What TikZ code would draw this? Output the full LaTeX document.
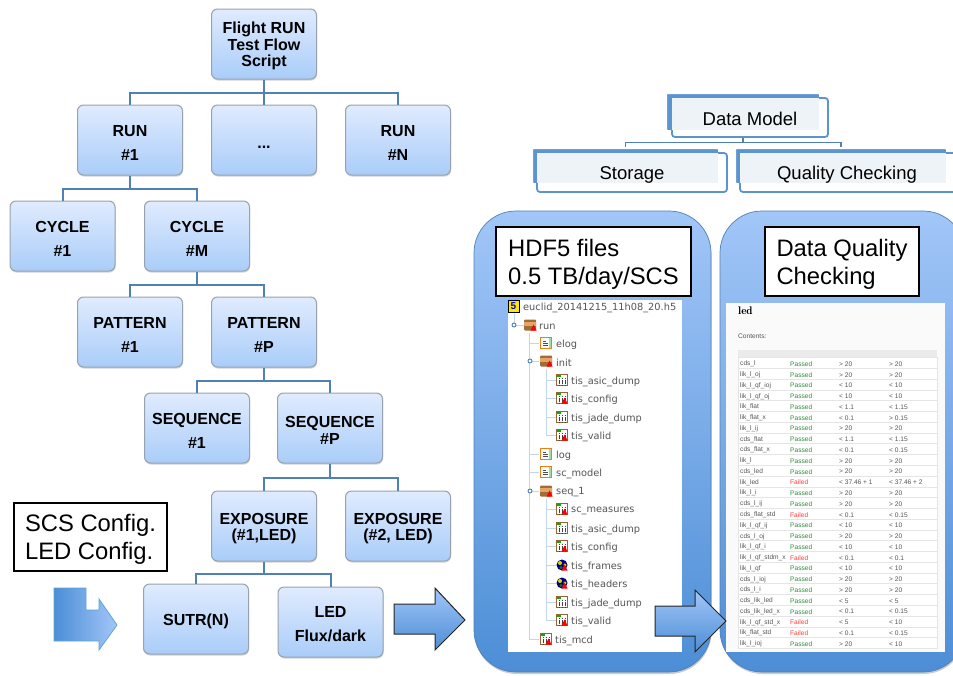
\documentclass[tikz,border=0pt]{standalone}
\usepackage{fontspec}
\setmainfont{Liberation Sans}
\newfontfamily\treefont{DejaVu Sans}
\usetikzlibrary{shadows}
\definecolor{linkblue}{HTML}{4F81B5}
\definecolor{barblue}{HTML}{5B94CF}
\definecolor{barpale}{HTML}{EEF3F8}
\definecolor{panelhi}{HTML}{A2C6F8}
\definecolor{panello}{HTML}{4C8ED6}
\definecolor{boxhi}{HTML}{E0EBFE}
\definecolor{boxlo}{HTML}{A9CDF9}
\definecolor{boxedge}{HTML}{98A2AE}
\definecolor{Passed}{HTML}{2E8B3A}
\definecolor{Failed}{HTML}{FF3B3B}
\definecolor{treegray}{HTML}{555555}
\definecolor{treeline}{HTML}{C4D6EA}
\newcommand{\flowgap}{\rule{0pt}{16pt}}
\newcommand{\labelgap}{\rule{0pt}{22.5pt}}
\tikzset{
	flowbox/.style={draw=boxedge, line width=1pt, rounded corners=6pt, top color=boxhi, bottom color=boxlo, minimum width=105pt, minimum height=70pt, inner sep=0pt, align=center, font=\fontsize{16}{16.5}\selectfont\bfseries, drop shadow={shadow xshift=0.5pt, shadow yshift=-1.5pt, opacity=0.35}},
	link/.style={draw=linkblue, line width=2pt},
	labelbox/.style={draw=black, line width=2pt, fill=white, align=left, inner sep=0pt, font=\fontsize{23.8}{28.4}\selectfont},
	panel/.style={draw=linkblue, line width=0.7pt, rounded corners=42pt, top color=panelhi, bottom color=panello, drop shadow={shadow xshift=0.5pt, shadow yshift=-2pt, opacity=0.4}},
	barback/.style={draw=white, line width=2.5pt, fill=barblue, rounded corners=2pt, inner sep=0pt},
	barfront/.style={draw=barblue, line width=1.8pt, fill=white, rounded corners=3pt, inner sep=0pt},
	barfill/.style={fill=barpale, inner sep=0pt},
	bartext/.style={inner sep=0pt, anchor=base, font=\fontsize{18.5}{20}\selectfont},
	treetext/.style={anchor=west, inner sep=0pt, yshift=-1.5pt, text=treegray, font=\treefont\fontsize{9.8}{10}\selectfont},
	cell/.style={anchor=west, inner sep=0pt, yshift=-1pt, text=treegray, font=\fontsize{6.6}{7}\selectfont},
}
% small icons of the file browser
\newcommand{\icondoc}[2]{\begin{scope}[shift={(#1,#2)}]
	\draw[orange!70!brown, fill=white, line width=0.7pt] (-5.5,-5.5) rectangle (5.5,5.5);
	\fill[green!50!gray!50] (2.5,-5) rectangle (5,5);
	\draw[black!70, line width=0.9pt] (-3,-2) -- (0,-2) (-3,0) -- (2,0) (-3,2) -- (2,2);
\end{scope}}
\newcommand{\iconredA}[2]{\fill[red] (#1,#2-3) -- (#1+3,#2+3) -- (#1-3,#2+3) -- cycle;}
\newcommand{\icontab}[2]{\begin{scope}[shift={(#1,#2)}]
	\draw[brown!80!black, fill=white, line width=0.8pt] (-5.5,-5.5) rectangle (5.5,5.5);
	\fill[green!70!black] (-5,-5) rectangle (-1,-3);
	\foreach \tabx in {-2.5,0.5,3.5}
		\draw[black!75, line width=1pt, dash pattern=on 1.4pt off 0.8pt] (\tabx,-2) -- (\tabx,5);
\end{scope}}
\newcommand{\icontabA}[2]{\icontab{#1}{#2}\iconredA{#1+2.5}{#2+2.5}}
\newcommand{\iconglobe}[2]{\fill[blue!50!black] (#1,#2) circle (5.5pt);
	\fill[yellow!70!olive] (#1-2,#2-2) circle (2pt) (#1+3,#2) circle (1.6pt);
	\fill[green!50!black] (#1-1,#2+2.5) circle (1.7pt);
	\iconredA{#1+2.5}{#2+2.5}}
\newcommand{\iconfolder}[2]{\fill[brown!85!black, rounded corners=1pt] (#1-6,#2-5.5) rectangle (#1+6,#2+5.5);
	\fill[brown!60!orange!70] (#1-6,#2-3) rectangle (#1+6,#2+1);
	\iconredA{#1+3.5}{#2+2.5}}
\begin{document}
\begin{tikzpicture}[x=1pt, y=-1pt]
	\useasboundingbox (0,0) rectangle (953,675);
	\clip (0,0) rectangle (953,675);

	% test flow tree
	\node[flowbox] (script) at (264,44) {\flowgap Flight RUN\\Test Flow\\Script};
	\node[flowbox] (run1) at (130,140) {\flowgap RUN\\[7.5pt]\#1};
	\node[flowbox] (rundots) at (264,140) {\flowgap ...};
	\node[flowbox] (runN) at (398,140) {\flowgap RUN\\[7.5pt]\#N};
	\node[flowbox] (cycle1) at (62.5,236) {\flowgap CYCLE\\[7.5pt]\#1};
	\node[flowbox] (cycleM) at (197,236) {\flowgap CYCLE\\[7.5pt]\#M};
	\node[flowbox] (pattern1) at (130,332) {\flowgap PATTERN\\[7.5pt]\#1};
	\node[flowbox] (patternP) at (264,332) {\flowgap PATTERN\\[7.5pt]\#P};
	\node[flowbox] (seq1) at (197,428) {\flowgap SEQUENCE\\[7.5pt]\#1};
	\node[flowbox] (seqP) at (330,428) {\flowgap SEQUENCE\\\#P};
	\node[flowbox] (expo1) at (264,526) {\flowgap EXPOSURE\\(\#1,LED)};
	\node[flowbox] (expo2) at (398,526) {\flowgap EXPOSURE\\(\#2, LED)};
	\node[flowbox] (sutr) at (196,619) {\flowgap SUTR(N)};
	\node[flowbox] (led) at (330.5,622) {\flowgap LED\\[7.5pt]Flux/dark};

	\draw[link] (script.south) -- (rundots.north);
	\draw[link] (script.south) -- ++(0,13) -| (run1.north);
	\draw[link] (script.south) -- ++(0,13) -| (runN.north);
	\draw[link] (run1.south) -- ++(0,13) -| (cycle1.north);
	\draw[link] (run1.south) -- ++(0,13) -| (cycleM.north);
	\draw[link] (cycleM.south) -- ++(0,13) -| (pattern1.north);
	\draw[link] (cycleM.south) -- ++(0,13) -| (patternP.north);
	\draw[link] (patternP.south) -- ++(0,13) -| (seq1.north);
	\draw[link] (patternP.south) -- ++(0,13) -| (seqP.north);
	\draw[link] (seqP.south) -- ++(0,14) -| (expo1.north);
	\draw[link] (seqP.south) -- ++(0,14) -| (expo2.north);
	\draw[link] (expo1.south) -- ++(0,12) -| (sutr.north);
	\draw[link] (expo1.south) -- ++(0,12) -| (led.north);

	\node[labelbox, minimum width=153pt, minimum height=68pt] (config) at (90.5,537) {\labelgap SCS Config.\\LED Config.};

	% block arrows
	\draw[draw=blue!40!cyan!60!gray!80, line width=0.8pt, left color=panello, right color=panelhi] (54,588) -- (86,588) -- (86,610) -- (99,610) -- (99,599) -- (117,625) -- (99,650) -- (99,641) -- (54,641) -- cycle;
	\draw[draw=black!85, line width=1pt, top color=panelhi, bottom color=panello] (394,604) -- (435,604) -- (435,588) -- (465,620) -- (435,650) -- (435,634) -- (394,634) -- cycle;

	% data model
	\node[barback, minimum width=154.5pt, minimum height=38.5pt] (modelback) at (743,112) {};
	\node[barback, minimum width=187.5pt, minimum height=36.5pt] (storeback) at (625.5,166) {};
	\node[barback, minimum width=212.5pt, minimum height=36.5pt] (qualback) at (841,166) {};
	\draw[link, line width=1.8pt] (modelback.south) -- ++(0,10) -| (storeback.north);
	\draw[link, line width=1.8pt] (modelback.south) -- ++(0,10) -| (qualback.north);
	\node[barfront, minimum width=156pt, minimum height=39pt] (modelfront) at (750,117.5) {};
	\node[barfront, minimum width=190pt, minimum height=39pt] (storefront) at (632,172.5) {};
	\node[barfront, minimum width=220pt, minimum height=39pt] (qualfront) at (850,172.5) {};
	\node[barfill, minimum width=147pt, minimum height=32pt] (modelfill) at (745.5,114) {};
	\node[barfill, minimum width=181pt, minimum height=30pt] (storefill) at (627.5,168) {};
	\node[barfill, minimum width=206pt, minimum height=30pt] (qualfill) at (843,168) {};
	\node[bartext] (modeltext) at (750,125) {Data Model};
	\node[bartext] (storetext) at (632,179) {Storage};
	\node[bartext] (qualtext) at (847,179) {Quality Checking};

	% panels
	\draw[panel] (474,211) rectangle (711,672);
	\draw[panel] (720,211) rectangle (965,672);
	\node[labelbox, minimum width=195pt, minimum height=69pt] (hdf) at (593.5,261.5) {\labelgap HDF5 files\\0.5 TB/day/SCS};
	\node[labelbox, minimum width=154pt, minimum height=69pt] (quality) at (842,261.5) {\labelgap Data Quality\\Checking};

	% file browser
	\fill[white] (508,300) rectangle (682,652);
	\draw[treeline, line width=0.9pt] (514,312) -- (514,325) -- (524,325);
	\draw[treeline, line width=0.9pt] (529,333) -- (529,639) -- (539,639);
	\draw[treeline, line width=0.9pt] (546,369) -- (546,435) -- (556,435);
	\draw[treeline, line width=0.9pt] (546,499) -- (546,620) -- (556,620);
	\foreach \rowy in {343,361,454,472,491}
		\draw[treeline, line width=0.9pt] (529,\rowy) -- (539,\rowy);
	\foreach \rowy in {380,398,417,509,528,546,565,583,602}
		\draw[treeline, line width=0.9pt] (546,\rowy) -- (556,\rowy);
	\foreach \handx/\handy in {514/325,530/361,530/491}
		\draw[linkblue, fill=white, line width=0.9pt] (\handx,\handy) circle (2pt);
	\fill[yellow!90!orange] (508,300) rectangle (519,312);
	\draw[black, line width=0.8pt] (508,300) rectangle (519,312);
	\node[inner sep=0pt, text=blue!80!black, font=\fontsize{10}{10}\selectfont\bfseries] (hdficon) at (513.5,306) {5};
	\node[treetext] (treeroot) at (523,306.5) {euclid\_20141215\_11h08\_20.h5};
	\foreach \icox/\texx/\rowy/\ico/\rowtext [count=\i] in {
		530/539/325/iconfolder/run, 546/556/343/icondoc/elog, 546/556/361/iconfolder/init,
		562/571/380/icontab/tis\_asic\_dump, 562/571/398/icontabA/tis\_config,
		562/571/417/icontab/tis\_jade\_dump, 562/571/435/icontabA/tis\_valid,
		546/556/454/icondoc/log, 546/556/472/icondoc/sc\_model, 546/556/491/iconfolder/seq\_1,
		562/571/509/icontabA/sc\_measures, 562/571/528/icontab/tis\_asic\_dump,
		562/571/546/icontabA/tis\_config, 562/571/565/iconglobe/tis\_frames,
		562/571/583/iconglobe/tis\_headers, 562/571/602/icontab/tis\_jade\_dump,
		562/571/620/icontabA/tis\_valid, 546/555/639/icontabA/tis\_mcd}{
		\csname\ico\endcsname{\icox}{\rowy}
		\node[treetext] (tree\i) at (\texx,\rowy) {\rowtext};
	}

	% quality report
	\fill[white!98!black] (726,303) rectangle (945,652);
	\node[anchor=west, inner sep=0pt, font=\fontfamily{lmr}\fontsize{11}{11}\selectfont\bfseries] (reptitle) at (738,311) {led};
	\node[cell] (repcontents) at (738,335) {Contents:};
	\fill[black!8] (738,350) rectangle (937,357);
	\foreach \rowname/\rowres/\rowa/\rowb [count=\i] in {
		cds\_l/Passed/> 20/> 20, lik\_l\_oj/Passed/> 20/> 20, lik\_l\_qf\_ioj/Passed/< 10/< 10,
		lik\_l\_qf\_oj/Passed/< 10/< 10, lik\_flat/Passed/< 1.1/< 1.15, lik\_flat\_x/Passed/< 0.1/> 0.15,
		lik\_l\_ij/Passed/> 20/> 20, cds\_flat/Passed/< 1.1/< 1.15, cds\_flat\_x/Passed/< 0.1/< 0.15,
		lik\_l/Passed/> 20/> 20, cds\_led/Passed/> 20/> 20, lik\_led/Failed/< 37.46 + 1/< 37.46 + 2,
		lik\_l\_i/Passed/> 20/> 20, cds\_l\_ij/Passed/> 20/> 20, cds\_flat\_std/Failed/< 0.1/< 0.15,
		lik\_l\_qf\_ij/Passed/< 10/< 10, cds\_l\_oj/Passed/> 20/> 20, lik\_l\_qf\_i/Passed/< 10/< 10,
		lik\_l\_qf\_stdm\_x/Failed/< 0.1/< 0.1, lik\_l\_qf/Passed/< 10/< 10, cds\_l\_ioj/Passed/> 20/> 20,
		cds\_l\_i/Passed/> 20/> 20, cds\_lik\_led/Passed/< 5/< 5, cds\_lik\_led\_x/Passed/< 0.1/< 0.15,
		lik\_l\_qf\_std\_x/Failed/< 5/< 10, lik\_flat\_std/Failed/< 0.1/< 0.15, lik\_l\_ioj/Passed/> 20/< 10}{
		\pgfmathsetmacro{\rowy}{363+(\i-1)*10.77}
		\draw[black!10, line width=0.6pt, fill=white] (738,\rowy-5.4) rectangle (937,\rowy+5.4);
		\node[cell] (name\i) at (740,\rowy) {\rowname};
		\node[cell, text=\rowres] (res\i) at (790,\rowy) {\rowres};
		\node[cell] (lima\i) at (839,\rowy) {\rowa};
		\node[cell] (limb\i) at (889,\rowy) {\rowb};
	}

	\draw[draw=black!85, line width=1pt, top color=panelhi, bottom color=panello] (655,606) -- (695,606) -- (695,590) -- (726,621) -- (695,652) -- (695,636) -- (655,636) -- cycle;
\end{tikzpicture}
\end{document}
